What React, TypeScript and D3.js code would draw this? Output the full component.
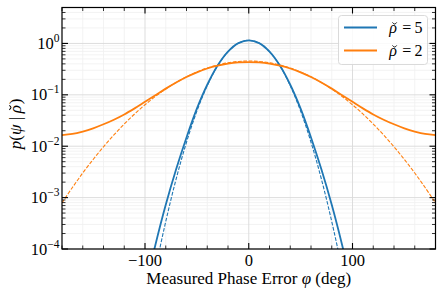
import * as d3 from "d3";

// phase error grid (deg) for the wide (rho=2) curves
const phiOrange = [
  -180, -170, -160, -150, -140, -130, -120, -110, -100, -90, -80, -70, -60, -50, -40, -30, -20, -10,
  0, 10, 20, 30, 40, 50, 60, 70, 80, 90, 100, 110, 120, 130, 140, 150, 160, 170, 180,
];
const orangeExact = [
  0.0165, 0.0173, 0.0193, 0.0223, 0.0267, 0.0328, 0.0415, 0.0545, 0.073, 0.098, 0.132, 0.174, 0.222,
  0.274, 0.325, 0.369, 0.404, 0.426, 0.433, 0.426, 0.404, 0.369, 0.325, 0.274, 0.222, 0.174, 0.132,
  0.098, 0.073, 0.0545, 0.0415, 0.0328, 0.0267, 0.0223, 0.0193, 0.0173, 0.0165,
];
const orangeApprox = [
  0.00079, 0.00157, 0.00301, 0.00552, 0.00975, 0.01655, 0.027, 0.0424, 0.0641, 0.0929, 0.1297,
  0.1741, 0.2246, 0.2787, 0.3325, 0.381, 0.421, 0.446, 0.455, 0.446, 0.421, 0.381, 0.3325, 0.2787,
  0.2246, 0.1741, 0.1297, 0.0929, 0.0641, 0.0424, 0.027, 0.01655, 0.00975, 0.00552, 0.00301,
  0.00157, 0.00079,
];

// narrow (rho=5) curves, only where they are on the chart
const phiBlue = [
  -110, -100, -90, -80, -70, -60, -50, -40, -30, -20, -10, 0, 10, 20, 30, 40, 50, 60, 70, 80, 90, 100, 110,
];
const blueExact = [
  1.9e-6, 1.66e-5, 1.2e-4, 7.24e-4, 0.00355, 0.0148, 0.0537, 0.157, 0.3715, 0.692, 1.012, 1.148,
  1.012, 0.692, 0.3715, 0.157, 0.0537, 0.0148, 0.00355, 7.24e-4, 1.2e-4, 1.66e-5, 1.9e-6,
];
const blueApprox = [
  2.5e-7, 3.5e-6, 3.95e-5, 3.42e-4, 0.0023, 0.01195, 0.0482, 0.151, 0.368, 0.693, 1.015, 1.152,
  1.015, 0.693, 0.368, 0.151, 0.0482, 0.01195, 0.0023, 3.42e-4, 3.95e-5, 3.5e-6, 2.5e-7,
];

const xMajor = [-100, 0, 100];
const xMinor = [-180, -160, -140, -120, -80, -60, -40, -20, 20, 40, 60, 80, 120, 140, 160, 180];
const yMajorExp = [-4, -3, -2, -1, 0];
const legendRho = ["5", "2"];

const W = 443;
const H = 296;
const m = { top: 7.5, right: 7.5, bottom: 47, left: 62 };
const blue = "#1f77b4";
const orange = "#ff7f0e";
const font = "'Liberation Serif', 'DejaVu Serif', serif";

// italic rho with a breve drawn on top, centred at cx
function RhoBreve({ cx, y, size }: { cx: number; y: number; size: number }) {
  const bx = cx + size * 0.1;
  const by = y - size * 0.66;
  const w = size * 0.26;
  return (
    <g>
      <text x={cx} y={y} fontSize={size} fontStyle="italic" textAnchor="middle">
        ρ
      </text>
      <path
        d={`M${bx - w / 2},${by} Q${bx},${by + size * 0.2} ${bx + w / 2},${by}`}
        fill="none"
        stroke="#000"
        strokeWidth={size * 0.06}
      />
    </g>
  );
}

export default function App() {
  const x = d3.scaleLinear().domain([-180, 180]).range([m.left, W - m.right]);
  const y = d3.scaleLog().domain([1e-4, 5]).range([H - m.bottom, m.top]);

  const yMinor: number[] = [];
  yMajorExp.forEach((e) => {
    for (let k = 2; k <= 9; k++) {
      const v = k * Math.pow(10, e);
      if (v <= 5) yMinor.push(v);
    }
  });

  const line = (xs: number[], ys: number[]) =>
    d3
      .line<number>()
      .x((_, i) => x(xs[i]))
      .y((d) => y(d))
      .curve(d3.curveCatmullRom)(ys) || "";

  const x0 = m.left;
  const x1 = W - m.right;
  const y0 = m.top;
  const y1 = H - m.bottom;
  const tickFs = 16.5;
  const labelFs = 17;

  return (
    <svg
      width={W}
      height={H}
      viewBox={`0 0 ${W} ${H}`}
      style={{ position: "fixed", left: 0, top: 0, background: "#fff" }}
      fontFamily={font}
    >
      <defs>
        <clipPath id="plot">
          <rect x={x0} y={y0} width={x1 - x0} height={y1 - y0} />
        </clipPath>
      </defs>

      {/* minor grid */}
      <g stroke="#f0f0f0" strokeWidth={0.8}>
        {xMinor.map((v) => (
          <line key={"gx" + v} x1={x(v)} x2={x(v)} y1={y0} y2={y1} />
        ))}
        {yMinor.map((v) => (
          <line key={"gy" + v} x1={x0} x2={x1} y1={y(v)} y2={y(v)} />
        ))}
      </g>
      {/* major grid */}
      <g stroke="#d9d9d9" strokeWidth={0.9}>
        {xMajor.map((v) => (
          <line key={"Gx" + v} x1={x(v)} x2={x(v)} y1={y0} y2={y1} />
        ))}
        {yMajorExp.map((e) => (
          <line key={"Gy" + e} x1={x0} x2={x1} y1={y(Math.pow(10, e))} y2={y(Math.pow(10, e))} />
        ))}
      </g>

      <g clipPath="url(#plot)" fill="none">
        <path d={line(phiOrange, orangeApprox)} stroke={orange} strokeWidth={1.1} strokeDasharray="3.7,1.6" />
        <path d={line(phiBlue, blueApprox)} stroke={blue} strokeWidth={1.1} strokeDasharray="3.7,1.6" />
        <path d={line(phiBlue, blueExact)} stroke={blue} strokeWidth={1.8} />
        <path d={line(phiOrange, orangeExact)} stroke={orange} strokeWidth={1.8} />
      </g>

      {/* ticks, inside on all sides */}
      <g stroke="#000">
        {xMajor.map((v) => (
          <g key={"tx" + v} strokeWidth={1.1}>
            <line x1={x(v)} x2={x(v)} y1={y1} y2={y1 - 6} />
            <line x1={x(v)} x2={x(v)} y1={y0} y2={y0 + 6} />
          </g>
        ))}
        {xMinor.map((v) => (
          <g key={"mx" + v} strokeWidth={0.8}>
            <line x1={x(v)} x2={x(v)} y1={y1} y2={y1 - 3.5} />
            <line x1={x(v)} x2={x(v)} y1={y0} y2={y0 + 3.5} />
          </g>
        ))}
        {yMajorExp.map((e) => {
          const p = y(Math.pow(10, e));
          return (
            <g key={"ty" + e} strokeWidth={1.1}>
              <line x1={x0} x2={x0 + 6} y1={p} y2={p} />
              <line x1={x1} x2={x1 - 6} y1={p} y2={p} />
            </g>
          );
        })}
        {yMinor.map((v) => (
          <g key={"my" + v} strokeWidth={0.8}>
            <line x1={x0} x2={x0 + 3.5} y1={y(v)} y2={y(v)} />
            <line x1={x1} x2={x1 - 3.5} y1={y(v)} y2={y(v)} />
          </g>
        ))}
      </g>
      <rect x={x0} y={y0} width={x1 - x0} height={y1 - y0} fill="none" stroke="#000" strokeWidth={1.2} />

      {/* tick labels */}
      <g fontSize={tickFs} fill="#000">
        {xMajor.map((v) => (
          <text key={"lx" + v} x={x(v)} y={y1 + 16.5} textAnchor="middle">
            {v < 0 ? "\u2212" + Math.abs(v) : String(v)}
          </text>
        ))}
        {yMajorExp.map((e) => (
          <text key={"ly" + e} x={x0 - 2.5} y={y(Math.pow(10, e)) + 5.5} textAnchor="end">
            10
            <tspan fontSize={11.5} dy={-7}>
              {e < 0 ? "\u2212" + Math.abs(e) : String(e)}
            </tspan>
          </text>
        ))}
      </g>

      {/* axis labels */}
      <text x={(x0 + x1) / 2} y={y1 + 35} textAnchor="middle" fontSize={labelFs}>
        Measured Phase Error <tspan fontStyle="italic">φ</tspan> (deg)
      </text>
      <g transform={`translate(20.5,${(y0 + y1) / 2 - 2}) rotate(-90)`} fontSize={labelFs}>
        <text x={9.5} y={0} textAnchor="end">
          <tspan fontStyle="italic">p</tspan>(<tspan fontStyle="italic">ψ</tspan> |
        </text>
        <RhoBreve cx={17} y={0} size={labelFs} />
        <text x={22} y={0}>
          )
        </text>
      </g>

      {/* legend */}
      <g>
        <rect x={338.5} y={15.5} width={89} height={49} rx={3} fill="#fff" fillOpacity={0.85} stroke="#d6d6d6" strokeWidth={0.9} />
        {legendRho.map((r, i) => (
          <g key={r}>
            <line x1={344} x2={377} y1={27.5 + i * 23} y2={27.5 + i * 23} stroke={i === 0 ? blue : orange} strokeWidth={1.8} />
            <RhoBreve cx={393} y={33 + i * 23} size={16} />
            <text x={399} y={33 + i * 23} fontSize={16}>
              {"\u2009=\u2009" + r}
            </text>
          </g>
        ))}
      </g>
    </svg>
  );
}
